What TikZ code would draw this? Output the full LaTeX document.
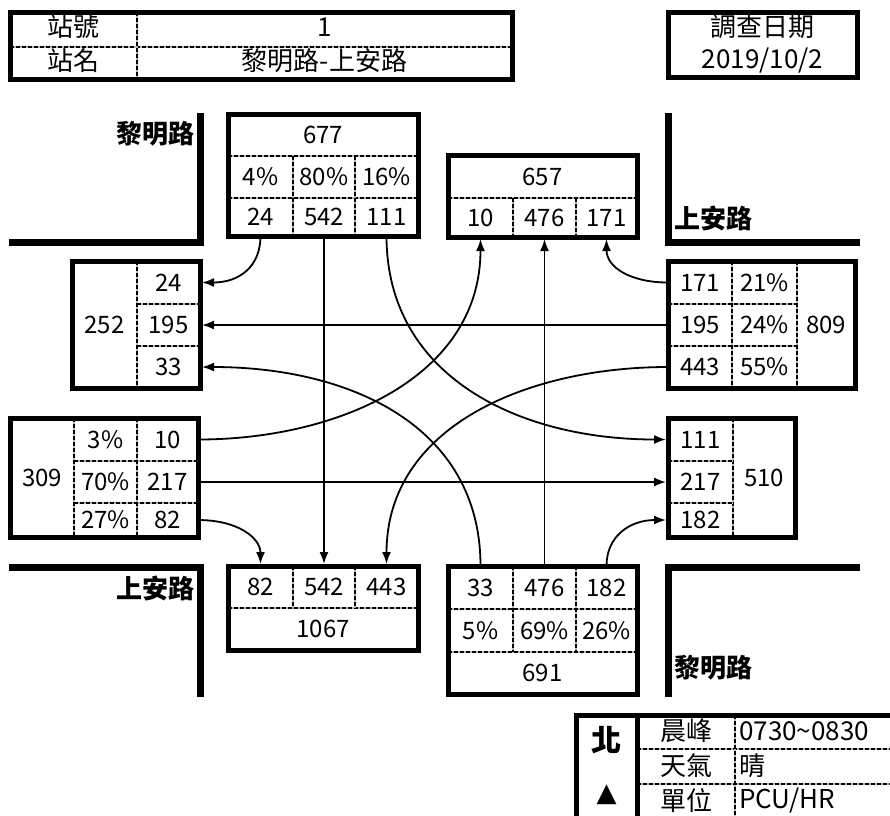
\documentclass[tikz,border=0pt]{standalone}
\usepackage{fontspec}
\setmainfont{Noto Sans CJK TC}
\newfontfamily\symfont{DejaVu Sans}
\usetikzlibrary{arrows.meta}
\tikzset{
 cell/.style={inner sep=0pt, outer sep=0pt, font=\fontsize{24}{28}\selectfont},
 hcell/.style={cell, font=\fontsize{26}{30}\selectfont},
 boxline/.style={line width=5pt},
 road/.style={line width=7pt},
 divider/.style={draw=gray!55, line width=2.2pt, postaction={draw=black, line width=2.2pt, dash pattern=on 3.5pt off 2.5pt}},
 flow/.style={line width=1.8pt, -{Latex[length=12pt,width=9pt]}, shorten >=2pt},
 roadlabel/.style={font=\bfseries\fontsize{26}{30}\selectfont, inner sep=0pt},
 legval/.style={inner sep=0pt, anchor=west, font=\fontsize{26}{30}\selectfont},
}
\newcommand\mkcell[7][cell]{\node[#1, minimum width={(#5-#3)*1pt}, minimum height={(#6-#4)*1pt}] (#2) at ({(#3+#5)/2},{(#4+#6)/2}) {#7};}
\begin{document}
\begin{tikzpicture}[x=1pt,y=-1pt]
\useasboundingbox (0,0) rectangle (890,815);
\clip (0,0) rectangle (890,815);
% ---------- header ----------
\mkcell[hcell]{hk1}{10}{8}{137}{46}{站號}
\mkcell[hcell]{hv1}{137}{8}{512}{46}{1}
\mkcell[hcell]{hk2}{10}{42}{137}{79}{站名}
\mkcell[hcell]{hv2}{137}{42}{512}{79}{黎明路-上安路}
\draw[divider] (10,47) -- (512,47);
\draw[divider] (137,12) -- (137,79);
\draw[boxline] (10,12) rectangle (512,79);
\mkcell[hcell]{hd1}{668}{9}{857}{44}{調查日期}
\mkcell[hcell]{hd2}{668}{43}{857}{77}{2019/10/2}
\draw[boxline] (668,12) rectangle (857,77);
% ---------- roads ----------
\draw[road] (200,113) -- (200,242) -- (9,242);
\draw[road] (668,113) -- (668,242) -- (860,242);
\draw[road] (9,567) -- (200,567) -- (200,697);
\draw[road] (860,567) -- (668,567) -- (668,697);
\node[roadlabel, anchor=east] (rl1) at (195,134) {黎明路};
\node[roadlabel, anchor=west] (rl2) at (674,218) {上安路};
\node[roadlabel, anchor=east] (rl3) at (195,588) {上安路};
\node[roadlabel, anchor=west] (rl4) at (674,668) {黎明路};
% ---------- top box ----------
\mkcell{t677}{228}{114}{418}{156}{677}
\mkcell{tp1}{228}{156}{293}{198}{4\%}
\mkcell{tp2}{293}{156}{355}{198}{80\%}
\mkcell{tp3}{355}{156}{418}{198}{16\%}
\mkcell{t24}{228}{198}{293}{236}{24}
\mkcell{t542}{293}{198}{355}{236}{542}
\mkcell{t111}{355}{198}{418}{236}{111}
\draw[divider] (228,156) -- (418,156);
\draw[divider] (228,198) -- (418,198);
\draw[divider] (293,156) -- (293,236);
\draw[divider] (355,156) -- (355,236);
\draw[boxline] (228,114) rectangle (418,236);
% ---------- top right box ----------
\mkcell{tr657}{448}{155}{637}{198}{657}
\mkcell{tr10}{448}{198}{513}{237}{10}
\mkcell{tr476}{513}{198}{576}{237}{476}
\mkcell{tr171}{576}{198}{637}{237}{171}
\draw[divider] (448,198) -- (637,198);
\draw[divider] (513,198) -- (513,237);
\draw[divider] (576,198) -- (576,237);
\draw[boxline] (448,155) rectangle (637,237);
% ---------- left box ----------
\mkcell{l252}{72}{261}{137}{388}{252}
\mkcell{l24}{137}{261}{200}{304}{24}
\mkcell{l195}{137}{304}{200}{346}{195}
\mkcell{l33}{137}{346}{200}{388}{33}
\draw[divider] (137,261) -- (137,388);
\draw[divider] (137,304) -- (200,304);
\draw[divider] (137,346) -- (200,346);
\draw[boxline] (72,261) rectangle (200,388);
% ---------- right box ----------
\mkcell{r171}{668}{261}{732}{304}{171}
\mkcell{rp1}{732}{261}{797}{304}{21\%}
\mkcell{r195}{668}{304}{732}{346}{195}
\mkcell{rp2}{732}{304}{797}{346}{24\%}
\mkcell{r443}{668}{346}{732}{388}{443}
\mkcell{rp3}{732}{346}{797}{388}{55\%}
\mkcell{r809}{797}{261}{855}{388}{809}
\draw[divider] (668,304) -- (797,304);
\draw[divider] (668,346) -- (797,346);
\draw[divider] (732,261) -- (732,388);
\draw[divider] (797,261) -- (797,388);
\draw[boxline] (668,261) rectangle (855,388);
% ---------- left middle box ----------
\mkcell{lm309}{10}{418}{74}{537}{309}
\mkcell{lmp1}{74}{418}{137}{461}{3\%}
\mkcell{lm10}{137}{418}{198}{461}{10}
\mkcell{lmp2}{74}{461}{137}{503}{70\%}
\mkcell{lm217}{137}{461}{198}{503}{217}
\mkcell{lmp3}{74}{503}{137}{537}{27\%}
\mkcell{lm82}{137}{503}{198}{537}{82}
\draw[divider] (74,418) -- (74,537);
\draw[divider] (137,418) -- (137,537);
\draw[divider] (74,461) -- (198,461);
\draw[divider] (74,503) -- (198,503);
\draw[boxline] (10,418) rectangle (198,537);
% ---------- right middle box ----------
\mkcell{rm111}{668}{418}{733}{461}{111}
\mkcell{rm217}{668}{461}{733}{503}{217}
\mkcell{rm182}{668}{503}{733}{537}{182}
\mkcell{rm510}{733}{418}{795}{537}{510}
\draw[divider] (733,418) -- (733,537);
\draw[divider] (668,461) -- (733,461);
\draw[divider] (668,503) -- (733,503);
\draw[boxline] (668,418) rectangle (795,537);
% ---------- bottom left box ----------
\mkcell{b82}{228}{566}{293}{608}{82}
\mkcell{b542}{293}{566}{355}{608}{542}
\mkcell{b443}{355}{566}{418}{608}{443}
\mkcell{b1067}{228}{608}{418}{650}{1067}
\draw[divider] (228,608) -- (418,608);
\draw[divider] (293,566) -- (293,608);
\draw[divider] (355,566) -- (355,608);
\draw[boxline] (228,566) rectangle (418,650);
% ---------- bottom right box ----------
\mkcell{br33}{448}{566}{513}{609}{33}
\mkcell{br476}{513}{566}{576}{609}{476}
\mkcell{br182}{576}{566}{637}{609}{182}
\mkcell{brp1}{448}{609}{513}{652}{5\%}
\mkcell{brp2}{513}{609}{576}{652}{69\%}
\mkcell{brp3}{576}{609}{637}{652}{26\%}
\mkcell{br691}{448}{652}{637}{694}{691}
\draw[divider] (448,609) -- (637,609);
\draw[divider] (448,652) -- (637,652);
\draw[divider] (513,566) -- (513,652);
\draw[divider] (576,566) -- (576,652);
\draw[boxline] (448,566) rectangle (637,694);
% ---------- flows ----------
\draw[flow] (t24.south) .. controls +(0,30) and +(40,0) .. (l24.east);
\draw[flow] (t542.south) -- (b542.north);
\draw[flow] (t111.south) .. controls +(0,140) and +(-150,0) .. (rm111.west);
\draw[flow] (lm10.east) .. controls +(140,0) and +(0,140) .. (tr10.south);
\draw[flow] (lm217.east) -- (rm217.west);
\draw[flow] (lm82.east) .. controls +(40,0) and +(0,-28) .. (b82.north);
\draw[flow] (br33.north) .. controls +(0,-140) and +(150,0) .. (l33.east);
\draw[flow] (br476.north) -- (tr476.south);
\draw[flow] (br182.north) .. controls +(0,-30) and +(-38,0) .. (rm182.west);
\draw[flow] (r171.west) .. controls +(-38,0) and +(0,30) .. (tr171.south);
\draw[flow] (r195.west) -- (l195.east);
\draw[flow] (r443.west) .. controls +(-140,0) and +(0,-140) .. (b443.north);
% ---------- legend ----------
\mkcell[hcell]{ln}{576}{715}{637}{765}{\fontsize{30}{34}\selectfont\bfseries 北}
\mkcell[hcell]{la}{576}{775}{637}{815}{\symfont\fontsize{26}{30}\selectfont ▲}
\mkcell[hcell]{lk1}{637}{713}{735}{749}{晨峰}
\mkcell[hcell]{lk2}{637}{748}{735}{784}{天氣}
\mkcell[hcell]{lk3}{637}{783}{735}{818}{單位}
\node[legval] (lv1) at (739,731) {0730\textasciitilde0830};
\node[legval] (lv2) at (739,766) {晴};
\node[legval] (lv3) at (739,800) {PCU/HR};
\draw[divider] (637,749) -- (900,749);
\draw[divider] (637,784) -- (900,784);
\draw[divider] (735,715) -- (735,830);
\draw[boxline] (637,715) -- (637,830);
\draw[boxline] (576,715) rectangle (900,830);
\end{tikzpicture}
\end{document}
